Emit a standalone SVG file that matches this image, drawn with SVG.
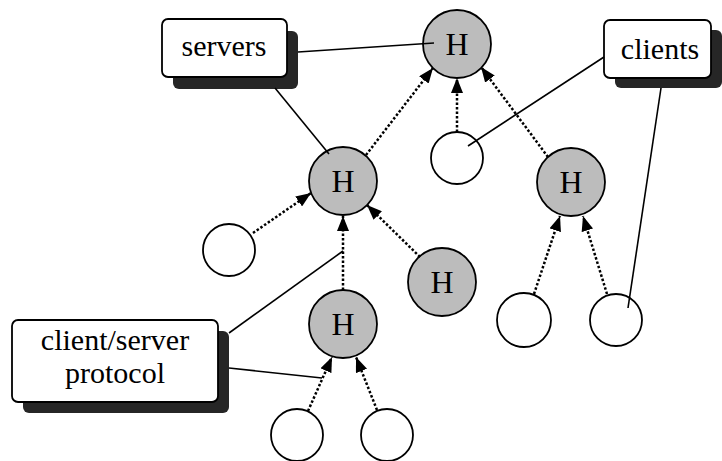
<svg xmlns="http://www.w3.org/2000/svg" width="722" height="461" viewBox="0 0 722 461">
<defs>
<style>
.box{fill:#fff;stroke:#000;stroke-width:1.8}
.shadow{fill:#262626}
.h{fill:#bcbcbc;stroke:#000;stroke-width:1.8}
.c{fill:#fff;stroke:#000;stroke-width:1.8}
.t{font-family:"Liberation Serif",serif;font-size:30px;fill:#000;text-anchor:middle}
.ht{font-family:"Liberation Serif",serif;font-size:32px;fill:#000;text-anchor:middle}
.ln{stroke:#000;stroke-width:1.6;fill:none}
.dot{stroke:#000;stroke-width:2.5;stroke-dasharray:2.5 2;fill:none;marker-end:url(#ah)}
</style>
<marker id="ah" markerUnits="userSpaceOnUse" markerWidth="16" markerHeight="12" refX="15" refY="6" orient="auto">
<path d="M0,0 L15,6 L0,12 z" fill="#000"/>
</marker>
</defs>
<g id="servers">
<rect class="shadow" x="173" y="31" width="125" height="58" rx="6"/>
<rect class="box" x="162" y="19" width="125" height="58" rx="6"/>
<text class="t" x="224" y="56">servers</text>
</g>
<g id="clients">
<rect class="shadow" x="615" y="30" width="107" height="58" rx="6"/>
<rect class="box" x="604" y="20" width="107" height="58" rx="6"/>
<text class="t" x="660" y="59">clients</text>
</g>
<g id="protocol">
<rect class="shadow" x="23" y="331" width="206" height="82" rx="6"/>
<rect class="box" x="12" y="320" width="206" height="82" rx="6"/>
<text class="t" x="115" y="350">client/server</text>
<text class="t" x="115" y="383">protocol</text>
</g>
<g id="h-top"><circle class="h" cx="457" cy="44" r="34"/><text class="ht" x="457" y="55">H</text></g>
<g id="h-mid"><circle class="h" cx="343" cy="181" r="34"/><text class="ht" x="343" y="192">H</text></g>
<g id="h-right"><circle class="h" cx="571" cy="182" r="34"/><text class="ht" x="571" y="193">H</text></g>
<g id="h-mid2"><circle class="h" cx="442" cy="282" r="34"/><text class="ht" x="442" y="293">H</text></g>
<g id="h-low"><circle class="h" cx="343" cy="324" r="34"/><text class="ht" x="343" y="335">H</text></g>
<g id="c1"><circle class="c" cx="229" cy="250" r="26"/></g>
<g id="c2"><circle class="c" cx="457" cy="158" r="26"/></g>
<g id="c3"><circle class="c" cx="524" cy="320" r="27"/></g>
<g id="c4"><circle class="c" cx="616" cy="320" r="26"/></g>
<g id="c5"><circle class="c" cx="297" cy="435" r="26"/></g>
<g id="c6"><circle class="c" cx="387" cy="435" r="26"/></g>
<g id="connectors">
<line class="ln" x1="298" y1="52" x2="434" y2="43"/>
<line class="ln" x1="275" y1="88" x2="329" y2="154"/>
<line class="ln" x1="604" y1="57" x2="468" y2="146"/>
<line class="ln" x1="661" y1="88" x2="628" y2="308"/>
<line class="ln" x1="229" y1="333" x2="343" y2="251"/>
<line class="ln" x1="229" y1="368" x2="322" y2="378"/>
<line class="dot" x1="366" y1="155" x2="433" y2="68"/>
<line class="dot" x1="457" y1="132" x2="457" y2="78"/>
<line class="dot" x1="548" y1="157" x2="481" y2="67"/>
<line class="dot" x1="253" y1="233" x2="311" y2="193"/>
<line class="dot" x1="420" y1="257" x2="367" y2="205"/>
<line class="dot" x1="343" y1="290" x2="343" y2="216"/>
<line class="dot" x1="308" y1="411" x2="332" y2="357"/>
<line class="dot" x1="377" y1="410" x2="356" y2="357"/>
<line class="dot" x1="534" y1="294" x2="560" y2="216"/>
<line class="dot" x1="607" y1="294" x2="583" y2="216"/>
</g>
</svg>
